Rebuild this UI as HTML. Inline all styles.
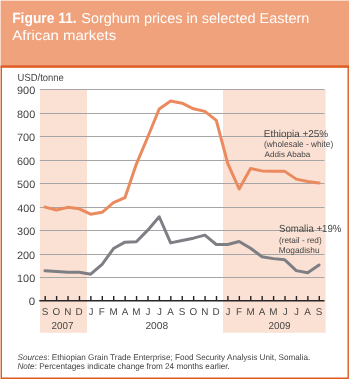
<!DOCTYPE html>
<html><head><meta charset="utf-8"><style>
html,body{margin:0;padding:0;background:#fff;width:350px;height:380px;overflow:hidden}
svg{display:block;will-change:transform}
text{font-family:"Liberation Sans",sans-serif;text-rendering:geometricPrecision}
</style></head><body>
<svg width="350" height="380" viewBox="0 0 350 380">
<rect x="0.6" y="0.6" width="348.4" height="64.6" fill="#EFA27B"/>
<rect x="0.6" y="65.2" width="348.4" height="2.6" fill="#DE5A1E"/>
<path d="M1.3,66 V378.2 H348.2 V66" fill="none" stroke="#DE5A1E" stroke-width="1.4"/>
<rect x="40" y="89.5" width="47" height="243.3" fill="#FBE1D3"/>
<rect x="223" y="89.5" width="102.6" height="243.3" fill="#FBE1D3"/>
<line x1="39.8" x2="324.5" y1="277.50" y2="277.50" stroke="#A6A6A6" stroke-width="1"/>
<line x1="39.8" x2="324.5" y1="254.50" y2="254.50" stroke="#A6A6A6" stroke-width="1"/>
<line x1="39.8" x2="324.5" y1="230.50" y2="230.50" stroke="#A6A6A6" stroke-width="1"/>
<line x1="39.8" x2="324.5" y1="207.50" y2="207.50" stroke="#A6A6A6" stroke-width="1"/>
<line x1="39.8" x2="324.5" y1="183.50" y2="183.50" stroke="#A6A6A6" stroke-width="1"/>
<line x1="39.8" x2="324.5" y1="160.50" y2="160.50" stroke="#A6A6A6" stroke-width="1"/>
<line x1="39.8" x2="324.5" y1="136.50" y2="136.50" stroke="#A6A6A6" stroke-width="1"/>
<line x1="39.8" x2="324.5" y1="113.50" y2="113.50" stroke="#A6A6A6" stroke-width="1"/>
<line x1="39.8" x2="324.5" y1="89.50" y2="89.50" stroke="#A6A6A6" stroke-width="1"/>
<line x1="39.3" x2="324.5" y1="300.8" y2="300.8" stroke="#262626" stroke-width="1.4"/>
<line x1="45.20" x2="45.20" y1="296.0" y2="300.5" stroke="#222" stroke-width="1.4"/>
<line x1="56.62" x2="56.62" y1="296.0" y2="300.5" stroke="#222" stroke-width="1.4"/>
<line x1="68.04" x2="68.04" y1="296.0" y2="300.5" stroke="#222" stroke-width="1.4"/>
<line x1="79.46" x2="79.46" y1="296.0" y2="300.5" stroke="#222" stroke-width="1.4"/>
<line x1="90.88" x2="90.88" y1="296.0" y2="300.5" stroke="#222" stroke-width="1.4"/>
<line x1="102.30" x2="102.30" y1="296.0" y2="300.5" stroke="#222" stroke-width="1.4"/>
<line x1="113.72" x2="113.72" y1="296.0" y2="300.5" stroke="#222" stroke-width="1.4"/>
<line x1="125.14" x2="125.14" y1="296.0" y2="300.5" stroke="#222" stroke-width="1.4"/>
<line x1="136.56" x2="136.56" y1="296.0" y2="300.5" stroke="#222" stroke-width="1.4"/>
<line x1="147.98" x2="147.98" y1="296.0" y2="300.5" stroke="#222" stroke-width="1.4"/>
<line x1="159.40" x2="159.40" y1="296.0" y2="300.5" stroke="#222" stroke-width="1.4"/>
<line x1="170.82" x2="170.82" y1="296.0" y2="300.5" stroke="#222" stroke-width="1.4"/>
<line x1="182.24" x2="182.24" y1="296.0" y2="300.5" stroke="#222" stroke-width="1.4"/>
<line x1="193.66" x2="193.66" y1="296.0" y2="300.5" stroke="#222" stroke-width="1.4"/>
<line x1="205.08" x2="205.08" y1="296.0" y2="300.5" stroke="#222" stroke-width="1.4"/>
<line x1="216.50" x2="216.50" y1="296.0" y2="300.5" stroke="#222" stroke-width="1.4"/>
<line x1="227.92" x2="227.92" y1="296.0" y2="300.5" stroke="#222" stroke-width="1.4"/>
<line x1="239.34" x2="239.34" y1="296.0" y2="300.5" stroke="#222" stroke-width="1.4"/>
<line x1="250.76" x2="250.76" y1="296.0" y2="300.5" stroke="#222" stroke-width="1.4"/>
<line x1="262.18" x2="262.18" y1="296.0" y2="300.5" stroke="#222" stroke-width="1.4"/>
<line x1="273.60" x2="273.60" y1="296.0" y2="300.5" stroke="#222" stroke-width="1.4"/>
<line x1="285.02" x2="285.02" y1="296.0" y2="300.5" stroke="#222" stroke-width="1.4"/>
<line x1="296.44" x2="296.44" y1="296.0" y2="300.5" stroke="#222" stroke-width="1.4"/>
<line x1="307.86" x2="307.86" y1="296.0" y2="300.5" stroke="#222" stroke-width="1.4"/>
<line x1="319.28" x2="319.28" y1="296.0" y2="300.5" stroke="#222" stroke-width="1.4"/>
<text transform="translate(28.85,305.10) scale(1.0739,1)" font-size="10.71" fill="#454545"><tspan>0</tspan></text>
<text transform="translate(17.07,282.10) scale(1.0155,1)" font-size="10.71" fill="#454545"><tspan>100</tspan></text>
<text transform="translate(16.95,259.10) scale(1.0225,1)" font-size="10.71" fill="#454545"><tspan>200</tspan></text>
<text transform="translate(17.09,235.10) scale(1.0147,1)" font-size="10.71" fill="#454545"><tspan>300</tspan></text>
<text transform="translate(17.25,212.10) scale(1.0051,1)" font-size="10.71" fill="#454545"><tspan>400</tspan></text>
<text transform="translate(17.06,188.10) scale(1.0159,1)" font-size="10.71" fill="#454545"><tspan>500</tspan></text>
<text transform="translate(16.94,165.10) scale(1.0228,1)" font-size="10.71" fill="#454545"><tspan>600</tspan></text>
<text transform="translate(16.94,141.10) scale(1.0232,1)" font-size="10.71" fill="#454545"><tspan>700</tspan></text>
<text transform="translate(17.03,118.10) scale(1.0181,1)" font-size="10.71" fill="#454545"><tspan>800</tspan></text>
<text transform="translate(16.99,94.10) scale(1.0203,1)" font-size="10.71" fill="#454545"><tspan>900</tspan></text>
<text transform="translate(17.57,80.70) scale(0.9162,1)" font-size="10.32" fill="#454545"><tspan>USD/tonne</tspan></text>
<text transform="translate(41.71,314.90) scale(1.0000,1)" font-size="9.88" fill="#454545">S</text>
<text transform="translate(52.58,314.90) scale(1.0000,1)" font-size="9.88" fill="#454545">O</text>
<text transform="translate(64.27,314.90) scale(1.0000,1)" font-size="9.88" fill="#454545">N</text>
<text transform="translate(75.52,314.90) scale(1.0000,1)" font-size="9.88" fill="#454545">D</text>
<text transform="translate(88.50,314.90) scale(1.0000,1)" font-size="9.88" fill="#454545">J</text>
<text transform="translate(98.87,314.90) scale(1.0000,1)" font-size="9.88" fill="#454545">F</text>
<text transform="translate(109.40,314.90) scale(1.0000,1)" font-size="9.88" fill="#454545">M</text>
<text transform="translate(121.64,314.90) scale(1.0000,1)" font-size="9.88" fill="#454545">A</text>
<text transform="translate(132.24,314.90) scale(1.0000,1)" font-size="9.88" fill="#454545">M</text>
<text transform="translate(145.60,314.90) scale(1.0000,1)" font-size="9.88" fill="#454545">J</text>
<text transform="translate(157.02,314.90) scale(1.0000,1)" font-size="9.88" fill="#454545">J</text>
<text transform="translate(167.32,314.90) scale(1.0000,1)" font-size="9.88" fill="#454545">A</text>
<text transform="translate(178.75,314.90) scale(1.0000,1)" font-size="9.88" fill="#454545">S</text>
<text transform="translate(189.62,314.90) scale(1.0000,1)" font-size="9.88" fill="#454545">O</text>
<text transform="translate(201.31,314.90) scale(1.0000,1)" font-size="9.88" fill="#454545">N</text>
<text transform="translate(212.56,314.90) scale(1.0000,1)" font-size="9.88" fill="#454545">D</text>
<text transform="translate(225.54,314.90) scale(1.0000,1)" font-size="9.88" fill="#454545">J</text>
<text transform="translate(235.91,314.90) scale(1.0000,1)" font-size="9.88" fill="#454545">F</text>
<text transform="translate(246.44,314.90) scale(1.0000,1)" font-size="9.88" fill="#454545">M</text>
<text transform="translate(258.68,314.90) scale(1.0000,1)" font-size="9.88" fill="#454545">A</text>
<text transform="translate(269.28,314.90) scale(1.0000,1)" font-size="9.88" fill="#454545">M</text>
<text transform="translate(282.64,314.90) scale(1.0000,1)" font-size="9.88" fill="#454545">J</text>
<text transform="translate(294.06,314.90) scale(1.0000,1)" font-size="9.88" fill="#454545">J</text>
<text transform="translate(304.36,314.90) scale(1.0000,1)" font-size="9.88" fill="#454545">A</text>
<text transform="translate(315.79,314.90) scale(1.0000,1)" font-size="9.88" fill="#454545">S</text>
<text transform="translate(51.51,328.70) scale(0.9811,1)" font-size="10.03" fill="#454545"><tspan>2007</tspan></text>
<text transform="translate(145.39,328.70) scale(1.0201,1)" font-size="10.03" fill="#454545"><tspan>2008</tspan></text>
<text transform="translate(268.40,328.70) scale(0.9892,1)" font-size="10.03" fill="#454545"><tspan>2009</tspan></text>
<polyline points="45.00,207.12 56.42,209.94 67.84,207.36 79.26,208.77 90.68,214.18 102.10,212.29 113.52,202.65 124.94,197.71 136.36,164.08 147.78,137.03 159.20,109.04 170.62,101.04 182.04,103.16 193.46,108.81 204.88,111.39 216.30,120.33 227.72,163.37 239.14,189.01 250.56,168.55 261.98,170.90 273.40,171.37 284.82,171.37 296.24,179.13 307.66,181.48 319.08,182.89" fill="none" stroke="#EA8A5E" stroke-width="3" stroke-linejoin="round" stroke-linecap="round"/>
<polyline points="45.00,270.86 56.42,271.56 67.84,272.27 79.26,272.27 90.68,274.15 102.10,264.27 113.52,248.52 124.94,242.16 136.36,241.69 147.78,230.17 159.20,216.76 170.62,242.87 182.04,240.52 193.46,238.17 204.88,235.11 216.30,244.52 227.72,244.52 239.14,241.46 250.56,248.28 261.98,256.75 273.40,258.63 284.82,259.80 296.24,270.62 307.66,272.74 319.08,264.98" fill="none" stroke="#7D7F84" stroke-width="3" stroke-linejoin="round" stroke-linecap="round"/>
<text transform="translate(263.78,137.10) scale(1.0071,1)" font-size="9.88" fill="#454545"><tspan>Ethiopia +25%</tspan></text>
<text transform="translate(264.09,147.40) scale(0.9509,1)" font-size="8.72" fill="#454545"><tspan>(wholesale - white)</tspan></text>
<text transform="translate(264.58,157.40) scale(1.0217,1)" font-size="7.99" fill="#454545"><tspan>Addis Ababa</tspan></text>
<text transform="translate(278.96,231.90) scale(0.9334,1)" font-size="10.32" fill="#454545"><tspan>Somalia +19%</tspan></text>
<text transform="translate(278.88,242.50) scale(1.0028,1)" font-size="8.28" fill="#454545"><tspan>(retail - red)</tspan></text>
<text transform="translate(278.72,252.50) scale(0.9902,1)" font-size="8.43" fill="#454545"><tspan>Mogadishu</tspan></text>
<text transform="translate(12.18,22.70) scale(0.9231,1)" font-size="14.97" fill="#fff"><tspan font-weight="bold">Figure 11.</tspan></text>
<text transform="translate(81.24,22.60) scale(1.0153,1)" font-size="14.24" fill="#fff"><tspan>Sorghum prices in selected Eastern</tspan></text>
<text transform="translate(12.37,40.00) scale(1.0716,1)" font-size="13.95" fill="#fff"><tspan>African markets</tspan></text>
<text transform="translate(17.47,359.60) scale(0.9850,1)" font-size="8.28" fill="#454545"><tspan font-style="italic">Sources</tspan><tspan>: Ethiopian Grain Trade Enterprise; Food Security Analysis Unit, Somalia.</tspan></text>
<text transform="translate(17.45,368.60) scale(0.9671,1)" font-size="8.43" fill="#454545"><tspan font-style="italic">Note</tspan><tspan>: Percentages indicate change from 24 months earlier.</tspan></text>
</svg>
</body></html>
